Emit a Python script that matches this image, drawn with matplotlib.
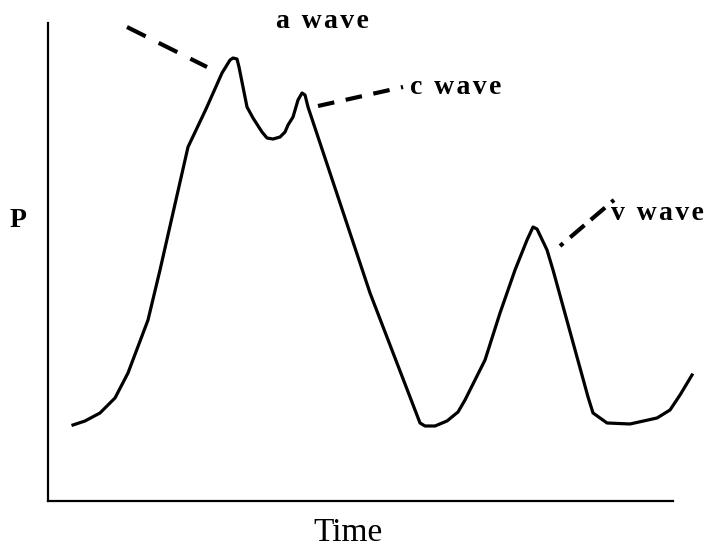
import matplotlib.pyplot as plt

plt.rcParams['font.family'] = ['Liberation Serif', 'DejaVu Serif']

# pressure trace (arbitrary units)
time = [25, 37, 52, 67, 80, 100, 112, 140, 158, 174, 182, 185, 189, 191, 195, 199,
        205, 214, 219, 225, 232, 237, 240, 245, 250, 254, 257, 260, 322, 372, 377,
        387, 399, 410, 417, 437, 452, 467, 479, 485, 489, 499, 505, 540, 545, 559,
        582, 609, 622, 632, 644]
pressure = [76, 80, 88, 103, 128, 181, 231, 354, 392, 428, 441, 443, 442, 434, 414, 394,
            383, 369, 363, 362, 364, 369, 376, 384, 401, 408, 406, 394, 208, 78, 75,
            75, 80, 89, 101, 141, 188, 231, 261, 274, 272, 251, 231, 104, 88, 78,
            77, 83, 91, 106, 126]

# wave labels: pointer start / end and text anchor
labels = ['a wave', 'c wave', 'v wave']
ptr_x = [(79, 159), (270, 355), (512, 566)]
ptr_y = [(474, 434), (395, 414), (255, 301)]
text_pos = [(274, 480), (362, 414), (563, 288)]


def spaced(ax, x, y, s, ha, size):
    # draw label with a little extra letter spacing, like the original
    t = ax.text(x, y, '\u200a'.join(s), ha=ha, va='center', fontsize=size,
                fontweight='bold', clip_on=False)
    return t


fig = plt.figure(figsize=(7.08, 5.48), dpi=100)
ax = fig.add_axes([0.0678, 0.0858, 0.8828, 0.8722])

ax.plot(time, pressure, color='black', lw=2.3, clip_on=False, solid_joinstyle='round')

ax.plot(ptr_x[0], ptr_y[0], color='black', lw=3, dashes=(5, 3.5), clip_on=False)
ax.plot(ptr_x[1], ptr_y[1], color='black', lw=3, dashes=(4, 2.8), clip_on=False)
ax.plot(ptr_x[2], ptr_y[2], color='black', lw=3, dashes=(1, 2.2, 4.5, 2, 4.5, 2), clip_on=False)

spaced(ax, text_pos[0][0], text_pos[0][1], labels[0], 'center', 20)
spaced(ax, text_pos[1][0], text_pos[1][1], labels[1], 'left', 20)
spaced(ax, text_pos[2][0], text_pos[2][1], labels[2], 'left', 20)

ax.set_xlim(0, 625)
ax.set_ylim(0, 478)
ax.spines['top'].set_visible(False)
ax.spines['right'].set_visible(False)
ax.spines['left'].set_linewidth(1.6)
ax.spines['bottom'].set_linewidth(1.6)
ax.set_xticks([])
ax.set_yticks([])

fig.text(18 / 708, 1 - 220 / 548, 'P', ha='center', va='center', fontsize=20, fontweight='bold')
fig.text(348 / 708, 1 - 533 / 548, 'Time', ha='center', va='center', fontsize=24)

fig.savefig('out.png', dpi=100)
